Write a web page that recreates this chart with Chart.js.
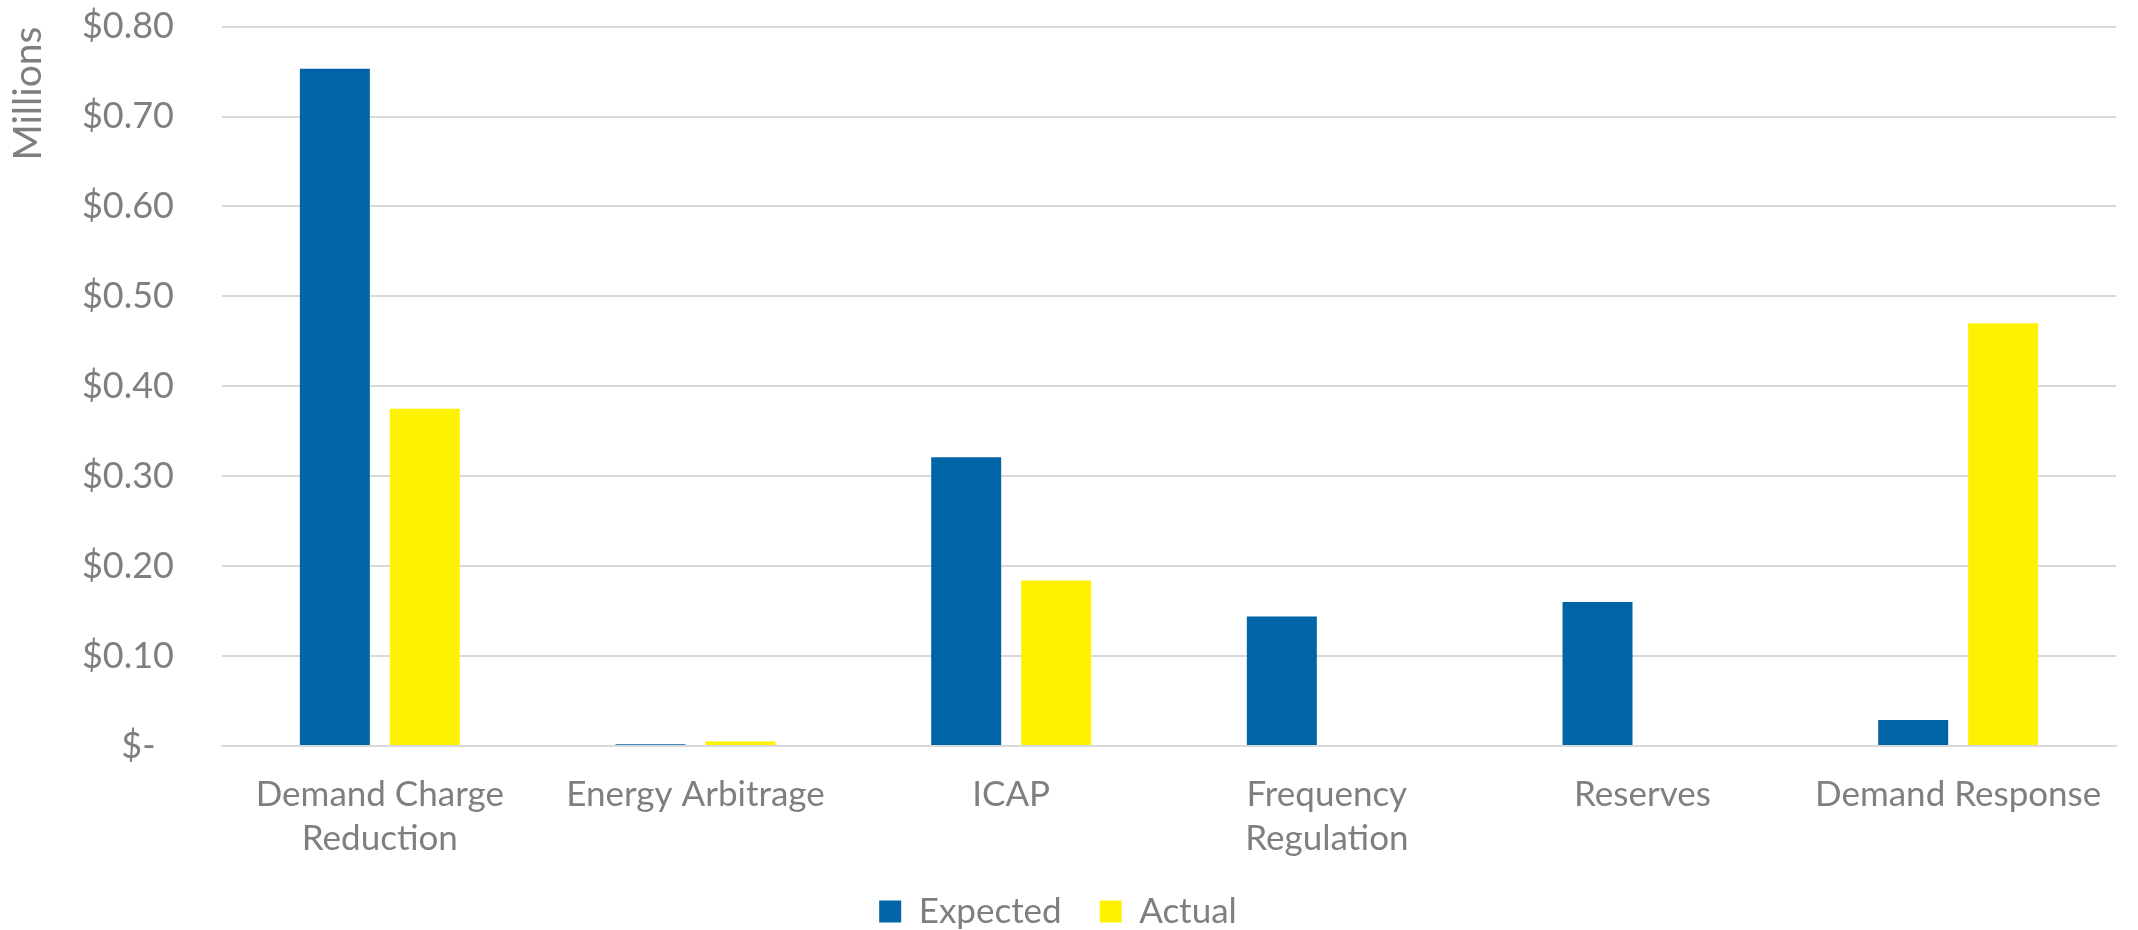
<!DOCTYPE html>
<html>
<head>
<meta charset="utf-8">
<script src="https://cdn.jsdelivr.net/npm/chart.js@4"></script>
<style>
  html, body { margin: 0; padding: 0; background: #ffffff; }
  #wrap { width: 2138px; height: 930px; }
</style>
</head>
<body>
<div id="wrap"><canvas id="chartValue"></canvas></div>
<script>
const categories = [['Demand Charge', 'Reduction'], 'Energy Arbitrage', 'ICAP', ['Frequency', 'Regulation'], 'Reserves', 'Demand Response'];
const expected = [0.753, 0.002, 0.321, 0.144, 0.160, 0.029];
const actual = [0.375, 0.005, 0.184, 0, 0, 0.470];
const yTicks = [0, 0.1, 0.2, 0.3, 0.4, 0.5, 0.6, 0.7, 0.8];

const grey = '#7f7f7f';
const font = 'Lato, "Noto Sans", sans-serif';

// legend box height is fixed so the items sit where the reference has them
const legendHeight = {
    id: 'legendHeight',
    beforeLayout(chart) {
        const lg = chart.legend;
        if (lg && !lg._fixed) {
            const fit = lg.fit;
            lg.fit = function() {
                fit.call(this);
                this.height = 74;
            };
            lg._fixed = true;
        }
    }
};

const ctx = document.getElementById('chartValue').getContext('2d');
const myChart = new Chart(ctx, {
    type: 'bar',
    data: {
        labels: categories,
        datasets: [{
            label: 'Expected',
            data: expected,
            backgroundColor: '#0064a6',
            borderWidth: 0
        }, {
            label: 'Actual',
            data: actual,
            backgroundColor: '#fff200',
            borderWidth: 0
        }]
    },
    options: {
        responsive: true,
        maintainAspectRatio: false,
        animation: false,
        layout: { padding: { top: 26, right: 22, left: 0, bottom: 0 } },
        datasets: {
            bar: { categoryPercentage: 0.57, barPercentage: 0.778 }
        },
        scales: {
            x: {
                grid: { display: false, drawTicks: false },
                border: { display: true, color: '#d9d9d9', width: 2 },
                ticks: {
                    color: grey,
                    font: { family: font, size: 35, lineHeight: 1.28 },
                    padding: 26,
                    autoSkip: false,
                    maxRotation: 0
                },
                afterFit: function(scale) { scale.height = 110; }
            },
            y: {
                min: 0,
                max: 0.8,
                afterBuildTicks: function(scale) {
                    scale.ticks = yTicks.map(v => ({ value: v }));
                },
                grid: { color: '#d9d9d9', lineWidth: 2, drawTicks: true, tickLength: 43, tickColor: 'rgba(0,0,0,0)' },
                border: { display: false },
                ticks: {
                    color: grey,
                    font: { family: font, size: 36 },
                    padding: 5,
                    callback: function(v) {
                        return v === 0 ? '$-  ' : '$' + v.toFixed(2);
                    }
                },
                title: {
                    display: true,
                    text: 'Millions',
                    align: 'end',
                    color: grey,
                    font: { family: font, size: 39 },
                    padding: { top: 5, bottom: 0 }
                },
                afterFit: function(scale) { scale.width = 222; }
            }
        },
        plugins: {
            tooltip: { enabled: false },
            legend: {
                position: 'bottom',
                labels: {
                    color: grey,
                    font: { family: font, size: 35 },
                    boxWidth: 22,
                    boxHeight: 22,
                    padding: 38
                }
            }
        }
    },
    plugins: [legendHeight]
});
</script>
</body>
</html>
